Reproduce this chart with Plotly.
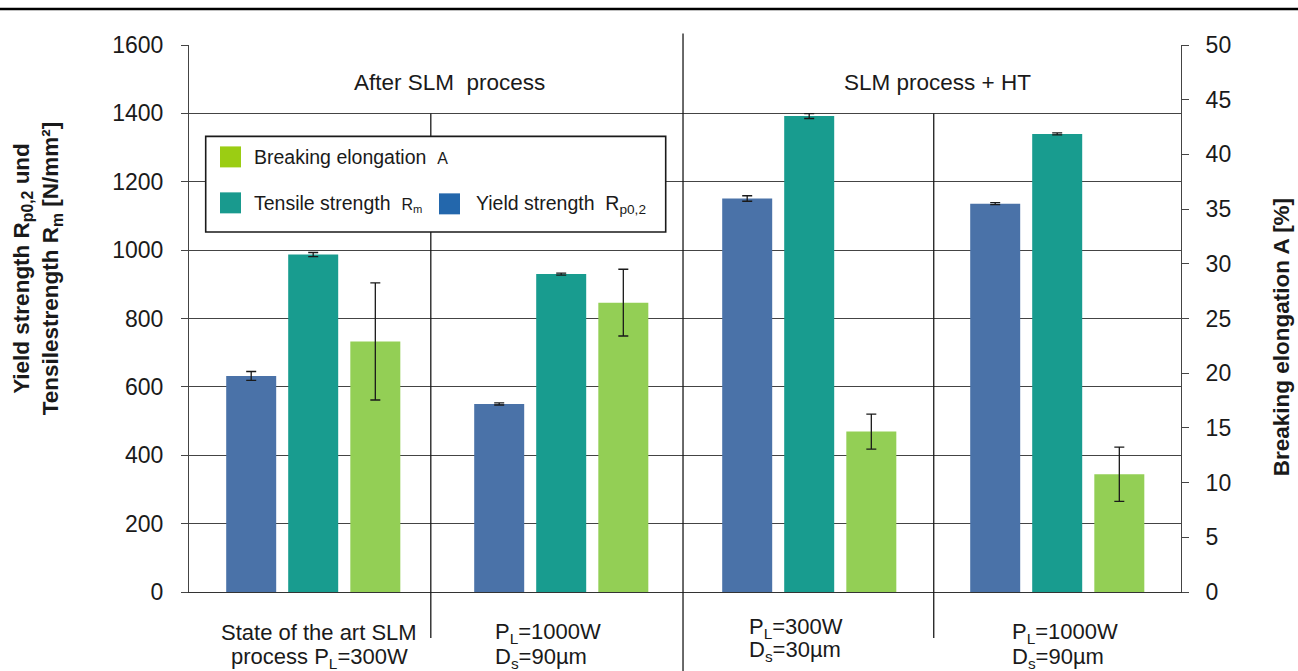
import plotly.graph_objects as go

# ---------------- data ----------------
categories = [
    ("State of the art SLM", "process P<sub>L</sub>=300W"),
    ("P<sub>L</sub>=1000W", "D<sub>s</sub>=90µm"),
    ("P<sub>L</sub>=300W", "D<sub>s</sub>=30µm"),
    ("P<sub>L</sub>=1000W", "D<sub>s</sub>=90µm"),
]
group_x = [0, 1, 2, 3]
section_titles = ["After SLM\u00a0\u00a0process", "SLM process + HT"]

yield_strength = [632, 550, 1151, 1136]
yield_err = [13, 3, 8, 3]
tensile_strength = [987, 930, 1392, 1340]
tensile_err = [6, 3, 7, 3]
elongation = [22.9, 26.45, 14.66, 10.77]
elongation_err = [5.35, 3.05, 1.6, 2.48]

left_ticks = [0, 200, 400, 600, 800, 1000, 1200, 1400, 1600]
right_ticks = [0, 5, 10, 15, 20, 25, 30, 35, 40, 45, 50]

# ---------------- geometry helpers (pixels -> paper) ----------------
W, H = 1298, 671
L, R, T, B = 189, 1181, 44.5, 592


def px(x):
    return (x - L) / (R - L)


def py(y):
    return (B - y) / (B - T)


FONT = "Liberation Sans, Arial, sans-serif"
BLUE = "#4A72A8"
TEAL = "#189C8F"
GREEN = "#93CF55"
ERR = dict(type="data", visible=True, color="#1a1a1a", thickness=1.3, width=5)

fig = go.Figure()
fig.add_trace(go.Bar(x=group_x, y=yield_strength, width=0.2016, offset=-0.35,
                     marker=dict(color=BLUE, line=dict(width=0)),
                     error_y=dict(array=yield_err, **ERR), name="Yield strength",
                     showlegend=False))
fig.add_trace(go.Bar(x=group_x, y=tensile_strength, width=0.2016, offset=-0.1,
                     marker=dict(color=TEAL, line=dict(width=0)),
                     error_y=dict(array=tensile_err, **ERR), name="Tensile strength",
                     showlegend=False))
fig.add_trace(go.Bar(x=group_x, y=elongation, width=0.2016, offset=0.1505, yaxis="y2",
                     marker=dict(color=GREEN, line=dict(width=0)),
                     error_y=dict(array=elongation_err, **ERR), name="Breaking elongation",
                     showlegend=False))

shapes = [
    # top page rule
    dict(type="line", xref="paper", yref="paper", x0=px(0), x1=px(W), y0=py(8.5), y1=py(8.5),
         line=dict(color="black", width=2.5), layer="above"),
    # main separator
    dict(type="line", xref="x", yref="paper", x0=1.492, x1=1.492, y0=py(33), y1=py(675),
         line=dict(color="#1a1a1a", width=1.3), layer="above"),
    # sub separators
    dict(type="line", xref="x", yref="paper", x0=0.475, x1=0.475, y0=py(113), y1=py(638),
         line=dict(color="#1a1a1a", width=1.3), layer="above"),
    dict(type="line", xref="x", yref="paper", x0=2.503, x1=2.503, y0=py(113), y1=py(638),
         line=dict(color="#1a1a1a", width=1.3), layer="above"),
    # legend box
    dict(type="rect", xref="paper", yref="paper", x0=px(205.7), x1=px(665.7),
         y0=py(231.7), y1=py(136), fillcolor="white",
         line=dict(color="#1a1a1a", width=1.6), layer="above"),
    # legend swatches
    dict(type="rect", xref="paper", yref="paper", x0=px(220), x1=px(241), y0=py(167), y1=py(146),
         fillcolor="#9BCD13", line=dict(width=0), layer="above"),
    dict(type="rect", xref="paper", yref="paper", x0=px(220), x1=px(241), y0=py(213), y1=py(192),
         fillcolor="#199A8E", line=dict(width=0), layer="above"),
    dict(type="rect", xref="paper", yref="paper", x0=px(439), x1=px(460), y0=py(214), y1=py(193),
         fillcolor="#2367AC", line=dict(width=0), layer="above"),
]

annotations = []
# legend texts
leg_font = dict(family=FONT, size=19.5, color="#1a1a1a")
annotations += [
    dict(xref="paper", yref="paper", x=px(252), y=py(157), xanchor="left", yanchor="middle",
         text="Breaking elongation\u00a0\u00a0<span style='font-size:16px'>A</span>",
         showarrow=False, font=leg_font),
    dict(xref="paper", yref="paper", x=px(252), y=py(203), xanchor="left", yanchor="middle",
         text="Tensile strength\u00a0\u00a0<span style='font-size:16px'>R<sub>m</sub></span>",
         showarrow=False, font=leg_font),
    dict(xref="paper", yref="paper", x=px(474), y=py(204), xanchor="left", yanchor="middle",
         text="Yield strength\u00a0\u00a0R<sub>p0,2</sub>",
         showarrow=False, font=leg_font),
]
# section titles
sec_font = dict(family=FONT, size=22.5, color="#1a1a1a")
annotations += [
    dict(xref="x", yref="paper", x=0.552, y=py(82), text=section_titles[0], showarrow=False,
         xanchor="center", yanchor="middle", font=sec_font),
    dict(xref="x", yref="paper", x=2.52, y=py(82), text=section_titles[1], showarrow=False,
         xanchor="center", yanchor="middle", font=sec_font),
]
# category labels (two lines each)
cat_font = dict(family=FONT, size=22, color="#1a1a1a")
cat_pos = [(319, "center", 633, 658), (493, "left", 633, 658),
           (747, "left", 628, 651), (1010, "left", 633, 658)]
for (l1, l2), (xp, anc, y1, y2) in zip(categories, cat_pos):
    for txt, yp in ((l1, y1), (l2, y2)):
        annotations.append(dict(xref="paper", yref="paper", x=px(xp), y=py(yp), text=txt,
                                showarrow=False, xanchor=anc, yanchor="middle",
                                font=cat_font))
# axis titles
title_font = dict(family=FONT, size=22.5, color="#1a1a1a")
annotations += [
    dict(xref="paper", yref="paper", x=px(37), y=py(268), textangle=-90, showarrow=False,
         xanchor="center", yanchor="middle", font=title_font,
         text="<b>Yield strength R<sub>p0,2</sub> und</b><br><b>Tensilestrength R<sub>m</sub> [N/mm²]</b>"),
    dict(xref="paper", yref="paper", x=px(1281), y=py(337), textangle=-90, showarrow=False,
         xanchor="center", yanchor="middle", font=title_font,
         text="<b>Breaking elongation A [%]</b>"),
]

fig.update_layout(
    width=W, height=H,
    margin=dict(l=L, r=W - R, t=T, b=H - B, pad=0),
    paper_bgcolor="white", plot_bgcolor="white",
    barmode="overlay",
    font=dict(family=FONT, color="#1a1a1a"),
    showlegend=False,
    xaxis=dict(range=[-0.5, 3.5], showticklabels=False, showgrid=False, zeroline=False,
               showline=True, linecolor="#333", linewidth=1, ticks="", fixedrange=True),
    yaxis=dict(range=[0, 1600], tickvals=left_ticks, showgrid=True, gridcolor="#444",
               gridwidth=1, zeroline=False, showline=True, linecolor="#444", linewidth=1,
               ticks="outside", ticklen=7, tickcolor="#444", tickwidth=1,
               ticklabelstandoff=13,
               tickfont=dict(family=FONT, size=23, color="#1a1a1a")),
    yaxis2=dict(range=[0, 50], tickvals=right_ticks, overlaying="y", side="right",
                showgrid=False, zeroline=False, showline=True, linecolor="#444", linewidth=1,
                ticks="outside", ticklen=7, tickcolor="#444", tickwidth=1,
                ticklabelstandoff=12,
                tickfont=dict(family=FONT, size=23, color="#1a1a1a")),
    shapes=shapes,
    annotations=annotations,
)

fig.write_html(
    "out.html",
    config={"displayModeBar": False},
    post_script="document.body.style.margin='0';document.body.style.overflow='hidden';",
)
